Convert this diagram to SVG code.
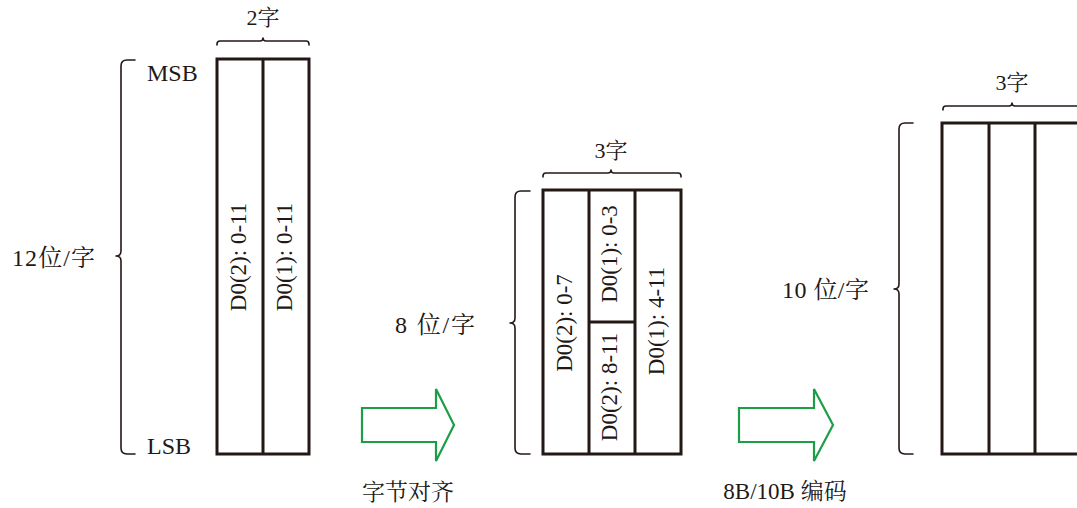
<svg xmlns="http://www.w3.org/2000/svg" width="1077" height="508" viewBox="0 0 1077 508">
<style>
.blk{fill:#fff;stroke:#231815;stroke-width:3}
.ln{fill:none;stroke:#231815;stroke-width:3}
.br{fill:none;stroke:#231815;stroke-width:1.6;stroke-linecap:round;stroke-linejoin:round}
.arr{fill:#fff;stroke:#1c9e48;stroke-width:2.2;stroke-linejoin:miter}
text{font-family:"Liberation Serif","Noto Serif CJK SC","Noto Sans CJK SC",serif;fill:#231815;font-size:22px}
.r{font-size:23px;text-anchor:middle}
.m{text-anchor:middle}
.s{font-size:24px}
</style>
<rect width="1077" height="508" fill="#fff"/>

<g id="block1">
<rect class="blk" x="217" y="59" width="92" height="395"/>
<line class="ln" x1="263" y1="59" x2="263" y2="454"/>
<text class="r" transform="translate(246,257) rotate(-90)">D0(2): 0-11</text>
<text class="r" transform="translate(292,257) rotate(-90)">D0(1): 0-11</text>
<path class="br" d="M217,45 V44 Q217,41 220,41 H260 Q263,41 263,38 Q263,41 266,41 H306 Q309,41 309,44 V45"/>
<text class="m" x="263" y="25">2字</text>
<path class="br" d="M135,60 H127 Q121,60 121,66 V251 Q121,256 116,256 Q121,256 121,261 V448 Q121,454 127,454 H135"/>
<text x="147" y="81" class="s">MSB</text>
<text x="147" y="454" class="s">LSB</text>
<text x="12" y="266" class="s" textLength="83" lengthAdjust="spacing">12位/字</text>
</g>

<g id="block2">
<rect class="blk" x="543" y="190" width="138" height="264"/>
<line class="ln" x1="589" y1="190" x2="589" y2="454"/>
<line class="ln" x1="635" y1="190" x2="635" y2="454"/>
<line class="ln" x1="589" y1="322" x2="635" y2="322"/>
<text class="r" transform="translate(572,323) rotate(-90)">D0(2): 0-7</text>
<text class="r" transform="translate(617,254) rotate(-90)">D0(1): 0-3</text>
<text class="r" transform="translate(617,387) rotate(-90)">D0(2): 8-11</text>
<text class="r" transform="translate(664,321) rotate(-90)">D0(1): 4-11</text>
<path class="br" d="M543,177 V176 Q543,173 546,173 H608 Q611,173 611,170 Q611,173 614,173 H678 Q681,173 681,176 V177"/>
<text class="m" x="611" y="158">3字</text>
<path class="br" d="M530,191 H521 Q515,191 515,197 V318 Q515,323 510,323 Q515,323 515,328 V448 Q515,454 521,454 H530"/>
<text x="395" y="333" class="s" textLength="80" lengthAdjust="spacing">8 位/字</text>
</g>

<g id="block3">
<rect class="blk" x="942" y="123" width="139" height="331"/>
<line class="ln" x1="989" y1="123" x2="989" y2="454"/>
<line class="ln" x1="1035" y1="123" x2="1035" y2="454"/>
<path class="br" d="M943,110 V109 Q943,106 946,106 H1009 Q1012,106 1012,103 Q1012,106 1015,106 H1090"/>
<text class="m" x="1012" y="90">3字</text>
<path class="br" d="M913,123 H905 Q899,123 899,129 V284 Q899,289 894,289 Q899,289 899,294 V448 Q899,454 905,454 H913"/>
<text x="782" y="298" class="s" textLength="87" lengthAdjust="spacing">10 位/字</text>
</g>

<g id="connectors">
<g id="arrow1">
<path class="arr" d="M362,408 H436 V389 L454,425 L436,461 V442 H362 Z"/>
<text x="408" y="500" class="m" style="font-size:23px">字节对齐</text>
</g>
<g id="arrow2">
<path class="arr" d="M739,408 H814 V389 L833,425 L814,461 V442 H739 Z"/>
<text x="785" y="499" class="m" style="font-size:23px">8B/10B 编码</text>
</g>
</g>
</svg>
